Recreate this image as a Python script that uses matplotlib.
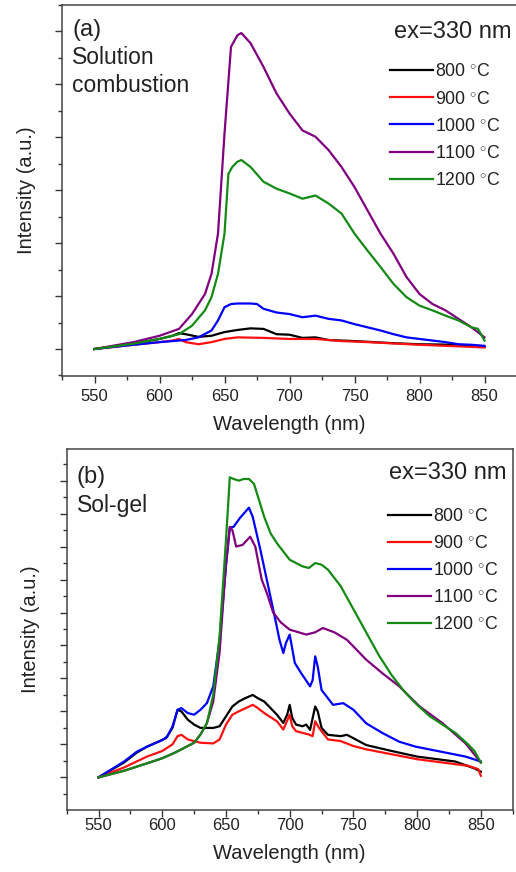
import matplotlib.pyplot as plt
from matplotlib.ticker import MultipleLocator

plt.rcParams['font.family'] = ['Liberation Sans', 'DejaVu Sans']
plt.rcParams['mathtext.fontset'] = 'custom'
plt.rcParams['mathtext.rm'] = 'Liberation Sans'

labels = ['800 $^{\\circ}$C', '900 $^{\\circ}$C', '1000 $^{\\circ}$C', '1100 $^{\\circ}$C', '1200 $^{\\circ}$C']
colors = ['#000000', '#ff1010', '#0000ff', '#800080', '#138a13']

# (a) Solution combustion (a.u.)
a_800_x = [550, 580, 600, 610, 615, 620, 630, 640, 650, 660, 670, 680, 690, 700, 710, 720, 730, 750, 780, 800, 830, 850]
a_800_y = [0, 0.1, 0.19, 0.25, 0.30, 0.28, 0.23, 0.25, 0.32, 0.36, 0.39, 0.38, 0.28, 0.27, 0.21, 0.22, 0.17, 0.15, 0.11, 0.09, 0.08, 0.04]
a_900_x = [550, 580, 600, 610, 615, 620, 630, 640, 650, 660, 680, 700, 720, 740, 760, 800, 850]
a_900_y = [0, 0.08, 0.13, 0.16, 0.19, 0.13, 0.09, 0.13, 0.19, 0.22, 0.21, 0.19, 0.19, 0.15, 0.13, 0.08, 0.03]
a_1000_x = [550, 580, 600, 620, 630, 640, 645, 650, 655, 660, 670, 675, 680, 690, 700, 710, 720, 730, 740, 750, 760, 770,
            780, 790, 800, 810, 820, 830, 840, 850]
a_1000_y = [0, 0.08, 0.13, 0.17, 0.22, 0.35, 0.54, 0.79, 0.85, 0.86, 0.86, 0.85, 0.76, 0.69, 0.66, 0.60, 0.63, 0.57, 0.54,
            0.47, 0.41, 0.35, 0.28, 0.22, 0.19, 0.16, 0.13, 0.09, 0.08, 0.06]
a_1100_x = [550, 580, 600, 615, 625, 635, 640, 645, 650, 655, 660, 663, 670, 680, 690, 700, 710, 720, 730, 740, 750, 760,
            770, 780, 790, 800, 810, 820, 830, 840, 850]
a_1100_y = [0, 0.13, 0.25, 0.38, 0.66, 1.04, 1.42, 2.18, 4.07, 5.71, 5.93, 5.97, 5.78, 5.33, 4.83, 4.45, 4.13, 4.01, 3.76,
            3.44, 3.06, 2.62, 2.18, 1.80, 1.36, 1.04, 0.85, 0.73, 0.57, 0.41, 0.22]
a_1200_x = [550, 580, 600, 615, 625, 635, 640, 645, 650, 653, 656, 660, 663, 670, 680, 690, 700, 710, 720, 730, 740, 750,
            760, 770, 780, 790, 800, 810, 820, 830, 840, 845, 850]
a_1200_y = [0, 0.1, 0.19, 0.28, 0.44, 0.73, 0.98, 1.42, 2.18, 3.31, 3.44, 3.54, 3.57, 3.44, 3.16, 3.03, 2.94, 2.84, 2.90,
            2.75, 2.56, 2.18, 1.86, 1.55, 1.23, 0.98, 0.82, 0.73, 0.63, 0.54, 0.41, 0.38, 0.16]

# (b) Sol-gel
b_800_x = [550, 570, 580, 588, 595, 603, 608, 612, 615, 620, 625, 630, 640, 645, 650, 655, 660, 665, 671, 675, 680, 685,
           690, 695, 698, 700, 702, 705, 710, 713, 716, 720, 722, 725, 730, 740, 745, 760, 780, 800, 830, 845, 850]
b_800_y = [0, 0.45, 0.75, 0.93, 1.05, 1.19, 1.5, 2.05, 2.0, 1.75, 1.6, 1.5, 1.5, 1.55, 1.85, 2.15, 2.3, 2.4, 2.5, 2.4,
           2.3, 2.1, 1.9, 1.65, 1.9, 2.2, 1.8, 1.6, 1.55, 1.6, 1.44, 2.15, 2.0, 1.5, 1.29, 1.25, 1.29, 0.98, 0.8, 0.63,
           0.48, 0.27, 0.17]
b_900_x = [550, 570, 588, 600, 608, 612, 615, 620, 630, 640, 645, 650, 655, 660, 671, 675, 680, 690, 695, 700, 702, 705,
           715, 718, 720, 723, 730, 740, 750, 760, 780, 800, 820, 840, 848, 850]
b_900_y = [0, 0.3, 0.63, 0.8, 1.0, 1.25, 1.29, 1.15, 1.05, 1.03, 1.15, 1.6, 1.9, 2.0, 2.2, 2.1, 1.95, 1.7, 1.45, 1.9,
           1.55, 1.4, 1.3, 1.25, 1.7, 1.5, 1.15, 1.1, 0.95, 0.85, 0.7, 0.55, 0.45, 0.35, 0.25, 0.05]
b_1000_x = [550, 570, 580, 588, 600, 604, 608, 612, 615, 620, 625, 630, 635, 640, 645, 650, 653, 656, 661, 668, 671, 677,
            682, 687, 692, 695, 697, 700, 702, 704, 709, 716, 718, 720, 722, 725, 734, 742, 750, 760, 773, 786, 799, 812,
            825, 838, 850]
b_1000_y = [0, 0.48, 0.78, 0.93, 1.13, 1.24, 1.54, 2.05, 2.1, 1.95, 1.9, 2.05, 2.25, 2.76, 4.17, 6.4, 7.57, 7.6, 7.87,
            8.18, 7.9, 6.9, 6.0, 5.1, 4.17, 3.77, 4.07, 4.33, 3.9, 3.47, 3.16, 2.76, 2.95, 3.67, 3.36, 2.65, 2.2, 2.25,
            2.05, 1.64, 1.34, 1.08, 0.93, 0.83, 0.73, 0.63, 0.48]
b_1100_x = [550, 570, 590, 600, 610, 620, 625, 630, 635, 640, 645, 650, 653, 655, 658, 663, 669, 673, 678, 682, 687, 693,
            700, 707, 713, 720, 726, 735, 745, 760, 773, 786, 802, 820, 838, 850]
b_1100_y = [0, 0.2, 0.45, 0.58, 0.75, 0.95, 1.05, 1.3, 1.64, 2.3, 3.8, 6.5, 7.6, 7.5, 7.0, 7.05, 7.3, 7.0, 6.0, 5.6,
            5.0, 4.7, 4.48, 4.4, 4.33, 4.4, 4.53, 4.4, 4.17, 3.57, 3.15, 2.76, 2.15, 1.64, 1.03, 0.45]
b_1200_x = [550, 570, 590, 600, 610, 620, 625, 630, 635, 640, 645, 650, 653, 656, 660, 664, 668, 672, 676, 680, 685,
            690, 700, 710, 715, 720, 725, 730, 740, 750, 760, 770, 780, 790, 800, 810, 820, 830, 840, 845, 850]
b_1200_y = [0, 0.2, 0.45, 0.58, 0.75, 0.95, 1.05, 1.3, 1.64, 2.5, 4.3, 7.2, 9.1, 9.05, 9.0, 9.05, 9.05, 8.9, 8.4, 7.9,
            7.4, 7.1, 6.6, 6.4, 6.35, 6.5, 6.45, 6.3, 5.8, 5.1, 4.4, 3.7, 3.1, 2.6, 2.2, 1.85, 1.6, 1.35, 1.0, 0.8, 0.45]

panels = [
    dict(pos=[62 / 516, 1 - 376 / 872, 455 / 516, 371 / 872], ylim=(-0.51, 6.5),
         tag='(a)', name='Solution\ncombustion', tag_y=0.962, name_y=0.889, ex=(0.989, 0.957), leg_y=0.876,
         leg_x=0.99, xpad=4, ylpad=12,
         series=[(a_800_x, a_800_y), (a_900_x, a_900_y), (a_1000_x, a_1000_y), (a_1100_x, a_1100_y), (a_1200_x, a_1200_y)]),
    dict(pos=[66.7 / 516, 1 - 810 / 872, 446 / 516, 360.7 / 872], ylim=(-0.99, 9.95),
         tag='(b)', name='Sol-gel', tag_y=0.955, name_y=0.875, ex=(0.985, 0.965), leg_y=0.872,
         leg_x=0.995, xpad=1, ylpad=13,
         series=[(b_800_x, b_800_y), (b_900_x, b_900_y), (b_1000_x, b_1000_y), (b_1100_x, b_1100_y), (b_1200_x, b_1200_y)]),
]

fig = plt.figure(figsize=(5.16, 8.72), dpi=100)
tc = '#222222'
for p in panels:
    ax = fig.add_axes(p['pos'])
    for (x, y), c, lab in zip(p['series'], colors, labels):
        ax.plot(x, y, color=c, lw=1.6, label=lab)
    ax.set_xlim(525, 875)
    ax.set_ylim(*p['ylim'])
    ax.xaxis.set_major_locator(MultipleLocator(50))
    ax.xaxis.set_minor_locator(MultipleLocator(25))
    ax.yaxis.set_major_locator(MultipleLocator(1))
    ax.yaxis.set_minor_locator(MultipleLocator(0.5))
    ax.tick_params(which='major', length=5, width=1, color='#333333', labelsize=12, labelcolor=tc, pad=p['xpad'])
    ax.tick_params(which='minor', length=3, width=1, color='#333333')
    ax.tick_params(axis='y', labelleft=False)
    for s in ax.spines.values():
        s.set_color('#444444')
        s.set_linewidth(1.1)
    ax.set_xlabel('Wavelength (nm)', fontsize=14.5, color=tc, labelpad=8)
    ax.set_ylabel('Intensity (a.u.)', fontsize=14.5, color=tc, labelpad=p['ylpad'])
    ax.text(0.022, p['tag_y'], p['tag'], transform=ax.transAxes, fontsize=17, color=tc, va='top', ha='left')
    ax.text(0.022, p['name_y'], p['name'], transform=ax.transAxes, fontsize=16.5, color=tc, va='top', ha='left',
            linespacing=1.28)
    ax.text(p['ex'][0], p['ex'][1], 'ex=330 nm', transform=ax.transAxes, fontsize=17, color=tc, va='top', ha='right')
    leg = ax.legend(loc='upper right', bbox_to_anchor=(p['leg_x'], p['leg_y']), frameon=False, fontsize=12.8,
                    handlelength=2.4, handletextpad=0.1, labelspacing=0.57, borderaxespad=0.3)
    for t in leg.get_texts():
        t.set_color(tc)

fig.savefig('out.png', dpi=100)
